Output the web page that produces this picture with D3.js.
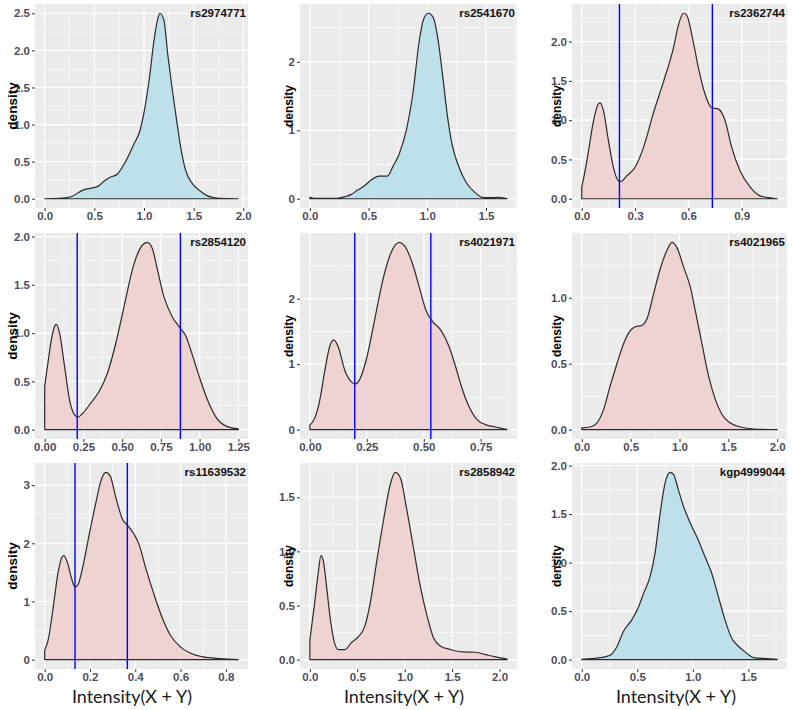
<!DOCTYPE html>
<html>
<head>
<meta charset="utf-8">
<script src="https://cdn.jsdelivr.net/npm/d3@7"></script>
<style>
	body { margin: 0; background: #fff; }
	svg { display: block; }
</style>
</head>
<body>
<svg id="chart" width="792" height="710"></svg>
<script>
// SNP panels, left to right, top to bottom
var snpNames = ["rs2974771", "rs2541670", "rs2362744",
	"rs2854120", "rs4021971", "rs4021965",
	"rs11639532", "rs2858942", "kgp4999044"];

// "single" = one cluster (blue), "cluster" = split clusters (pink)
var snpGroup = ["single", "single", "cluster",
	"cluster", "cluster", "cluster",
	"cluster", "cluster", "single"];

// cluster cut-off lines
var cutoffs = [[], [], [0.212, 0.735],
	[0.21, 0.876], [0.197, 0.531], [],
	[0.134, 0.365], [], []];

var xTicks = [[0, 0.5, 1, 1.5, 2], [0, 0.5, 1, 1.5], [0, 0.3, 0.6, 0.9],
	[0, 0.25, 0.5, 0.75, 1, 1.25], [0, 0.25, 0.5, 0.75], [0, 0.5, 1, 1.5, 2],
	[0, 0.2, 0.4, 0.6, 0.8], [0, 0.5, 1, 1.5, 2], [0, 0.5, 1, 1.5]];
var yTicks = [[0, 0.5, 1, 1.5, 2, 2.5], [0, 1, 2], [0, 0.5, 1, 1.5, 2],
	[0, 0.5, 1, 1.5, 2], [0, 1, 2], [0, 0.5, 1],
	[0, 1, 2, 3], [0, 0.5, 1, 1.5], [0, 0.5, 1, 1.5, 2]];
var xFormat = [".1f", ".1f", ".1f", ".2f", ".2f", ".1f", ".1f", ".1f", ".1f"];
var yFormat = [".1f", "d", ".1f", ".1f", "d", ".1f", "d", ".1f", ".1f"];

// density curves: intensity, density
var rs2974771X = [0, 0.15, 0.27, 0.39, 0.46, 0.54, 0.61, 0.66, 0.73, 0.81, 0.90, 0.96, 1.0, 1.05, 1.10, 1.14, 1.16, 1.20, 1.24, 1.28, 1.32, 1.37, 1.42, 1.49, 1.56, 1.63, 1.69, 1.76, 1.95];
var rs2974771Y = [0, 0.005, 0.03, 0.12, 0.14, 0.17, 0.25, 0.29, 0.33, 0.49, 0.74, 0.92, 1.16, 1.58, 2.12, 2.43, 2.5, 2.41, 1.94, 1.52, 1.14, 0.69, 0.38, 0.2, 0.11, 0.045, 0.02, 0.005, 0];

var rs2541670X = [0, 0.04, 0.23, 0.30, 0.35, 0.41, 0.45, 0.52, 0.59, 0.66, 0.71, 0.76, 0.82, 0.88, 0.93, 0.97, 1.01, 1.05, 1.09, 1.13, 1.17, 1.21, 1.27, 1.33, 1.40, 1.47, 1.53, 1.60, 1.68];
var rs2541670Y = [0.02, 0.005, 0.005, 0.03, 0.06, 0.13, 0.17, 0.27, 0.33, 0.33, 0.48, 0.65, 0.99, 1.57, 2.29, 2.63, 2.71, 2.65, 2.34, 1.81, 1.23, 0.80, 0.46, 0.24, 0.10, 0.02, 0.015, 0.02, 0];

var rs2362744X = [0, 0.019, 0.038, 0.066, 0.094, 0.103, 0.122, 0.15, 0.178, 0.206, 0.22, 0.253, 0.30, 0.347, 0.403, 0.46, 0.516, 0.544, 0.572, 0.59, 0.62, 0.657, 0.694, 0.73, 0.77, 0.807, 0.844, 0.89, 0.947, 1.0, 1.06, 1.1];
var rs2362744Y = [0.15, 0.36, 0.61, 0.99, 1.21, 1.22, 1.12, 0.74, 0.40, 0.23, 0.22, 0.29, 0.40, 0.65, 1.09, 1.49, 1.92, 2.21, 2.36, 2.34, 2.08, 1.66, 1.33, 1.16, 1.14, 0.99, 0.65, 0.36, 0.15, 0.04, 0.01, 0];

var rs2854120X = [0, 0.021, 0.043, 0.064, 0.075, 0.096, 0.128, 0.16, 0.192, 0.214, 0.246, 0.30, 0.353, 0.406, 0.46, 0.513, 0.577, 0.63, 0.662, 0.694, 0.726, 0.769, 0.823, 0.876, 0.908, 0.95, 1.004, 1.058, 1.11, 1.175, 1.25];
var rs2854120Y = [0.45, 0.69, 0.93, 1.07, 1.09, 1.0, 0.66, 0.31, 0.155, 0.13, 0.17, 0.28, 0.40, 0.59, 0.90, 1.28, 1.72, 1.91, 1.94, 1.88, 1.67, 1.38, 1.17, 1.05, 0.98, 0.79, 0.52, 0.28, 0.12, 0.034, 0.007];

var rs4021971X = [0, 0.022, 0.044, 0.066, 0.087, 0.105, 0.124, 0.153, 0.182, 0.20, 0.218, 0.247, 0.284, 0.32, 0.357, 0.393, 0.415, 0.451, 0.48, 0.51, 0.539, 0.575, 0.611, 0.64, 0.67, 0.699, 0.735, 0.771, 0.815, 0.866];
var rs4021971Y = [0.07, 0.18, 0.46, 0.91, 1.27, 1.37, 1.27, 0.91, 0.73, 0.70, 0.76, 1.06, 1.67, 2.28, 2.71, 2.86, 2.81, 2.53, 2.18, 1.82, 1.65, 1.52, 1.27, 0.96, 0.61, 0.35, 0.15, 0.076, 0.04, 0];

var rs4021965X = [0, 0.085, 0.154, 0.222, 0.29, 0.36, 0.427, 0.496, 0.547, 0.615, 0.667, 0.735, 0.803, 0.872, 0.923, 0.974, 1.043, 1.111, 1.162, 1.23, 1.3, 1.368, 1.436, 1.52, 1.624, 1.76, 2.0];
var rs4021965Y = [0.013, 0.02, 0.05, 0.15, 0.33, 0.50, 0.65, 0.75, 0.78, 0.79, 0.84, 1.03, 1.22, 1.36, 1.42, 1.38, 1.23, 1.08, 0.90, 0.65, 0.40, 0.226, 0.113, 0.05, 0.02, 0.005, 0];

var rs11639532X = [0, 0.015, 0.036, 0.058, 0.076, 0.085, 0.102, 0.117, 0.134, 0.146, 0.168, 0.197, 0.226, 0.248, 0.27, 0.289, 0.314, 0.343, 0.368, 0.394, 0.416, 0.445, 0.482, 0.518, 0.555, 0.599, 0.642, 0.70, 0.774, 0.855];
var rs11639532Y = [0.16, 0.33, 0.85, 1.47, 1.76, 1.79, 1.65, 1.42, 1.25, 1.28, 1.59, 2.16, 2.70, 3.07, 3.22, 3.16, 2.79, 2.42, 2.30, 2.16, 1.99, 1.59, 1.13, 0.73, 0.42, 0.22, 0.114, 0.046, 0.017, 0];

var rs2858942X = [0, 0.05, 0.088, 0.117, 0.14, 0.177, 0.212, 0.258, 0.30, 0.37, 0.44, 0.51, 0.576, 0.636, 0.707, 0.777, 0.848, 0.90, 0.954, 1.025, 1.095, 1.166, 1.237, 1.307, 1.378, 1.484, 1.608, 1.749, 1.855, 1.96, 2.08];
var rs2858942Y = [0.18, 0.52, 0.80, 0.96, 0.92, 0.67, 0.40, 0.16, 0.093, 0.093, 0.16, 0.21, 0.30, 0.52, 0.92, 1.29, 1.62, 1.73, 1.68, 1.37, 1.02, 0.67, 0.40, 0.195, 0.124, 0.093, 0.071, 0.068, 0.046, 0.025, 0.006];

var kgp4999044X = [0, 0.165, 0.255, 0.315, 0.375, 0.45, 0.51, 0.556, 0.616, 0.66, 0.706, 0.75, 0.796, 0.826, 0.87, 0.916, 0.976, 1.05, 1.11, 1.17, 1.23, 1.29, 1.35, 1.41, 1.47, 1.55, 1.667, 1.76];
var kgp4999044Y = [0.003, 0.02, 0.045, 0.13, 0.29, 0.41, 0.54, 0.68, 0.86, 1.10, 1.51, 1.82, 1.93, 1.91, 1.75, 1.58, 1.41, 1.23, 1.06, 0.89, 0.65, 0.41, 0.22, 0.138, 0.08, 0.02, 0.01, 0.003];

var densityX = [rs2974771X, rs2541670X, rs2362744X, rs2854120X, rs4021971X, rs4021965X, rs11639532X, rs2858942X, kgp4999044X];
var densityY = [rs2974771Y, rs2541670Y, rs2362744Y, rs2854120Y, rs4021971Y, rs4021965Y, rs11639532Y, rs2858942Y, kgp4999044Y];

// Layout of the 3x3 grid (panel backgrounds)
var colLeft = [35, 300, 572],
	colRight = [248, 517, 787],
	rowTop = [4, 233, 463],
	rowBottom = [208, 439, 669],
	yLabelX = [12, 289, 557],
	yLabelSize = [13.5, 12, 12],
	xTitleX = [132, 404, 676];

var groupFill = { single: "#bde0ea", cluster: "#efd3d3" };

var svg = d3.select("#chart");

function minorBreaks(ticks, domain){
	var step = ticks[1] - ticks[0],
		out = [ticks[0] - step / 2];
	ticks.forEach(function(t){ out.push(t + step / 2); });
	return out.filter(function(v){ return v >= domain[0] && v <= domain[1]; });
}

snpNames.forEach(function(name, i){
	var col = i % 3,
		row = Math.floor(i / 3),
		xs = densityX[i],
		ys = densityY[i],
		pts = xs.map(function(v, k){ return [v, ys[k]]; }),
		xMin = xs[0],
		xMax = xs[xs.length - 1],
		xRange = xMax - xMin,
		yMax = d3.max(ys);

	var x = d3.scaleLinear()
		.domain([xMin - 0.05 * xRange, xMax + 0.05 * xRange])
		.range([colLeft[col], colRight[col]]);
	var y = d3.scaleLinear()
		.domain([-0.05 * yMax, yMax * 1.05])
		.range([rowBottom[row], rowTop[row]]);

	var g = svg.append("g").attr("id", "panel-" + name);

	g.append("rect")
		.attr("x", colLeft[col])
		.attr("y", rowTop[row])
		.attr("width", colRight[col] - colLeft[col])
		.attr("height", rowBottom[row] - rowTop[row])
		.attr("fill", "#ebebeb");

	// minor grid
	g.selectAll("line.minor-x")
		.data(minorBreaks(xTicks[i], x.domain()))
		.enter().append("line")
		.attr("x1", x).attr("x2", x)
		.attr("y1", rowTop[row]).attr("y2", rowBottom[row])
		.attr("stroke", "#fff").attr("stroke-width", 0.6);
	g.selectAll("line.minor-y")
		.data(minorBreaks(yTicks[i], y.domain()))
		.enter().append("line")
		.attr("y1", y).attr("y2", y)
		.attr("x1", colLeft[col]).attr("x2", colRight[col])
		.attr("stroke", "#fff").attr("stroke-width", 0.6);

	// major grid
	g.selectAll("line.major-x")
		.data(xTicks[i])
		.enter().append("line")
		.attr("x1", x).attr("x2", x)
		.attr("y1", rowTop[row]).attr("y2", rowBottom[row])
		.attr("stroke", "#fff").attr("stroke-width", 1.2);
	g.selectAll("line.major-y")
		.data(yTicks[i])
		.enter().append("line")
		.attr("y1", y).attr("y2", y)
		.attr("x1", colLeft[col]).attr("x2", colRight[col])
		.attr("stroke", "#fff").attr("stroke-width", 1.2);

	// density
	var area = d3.area()
		.x(function(d){ return x(d[0]); })
		.y0(y(0))
		.y1(function(d){ return y(d[1]); })
		.curve(d3.curveMonotoneX);

	g.append("path")
		.datum(pts)
		.attr("d", area)
		.attr("fill", groupFill[snpGroup[i]])
		.attr("stroke", "#2b2b2b")
		.attr("stroke-width", 1.2)
		.attr("stroke-linejoin", "round");

	// cut-offs
	g.selectAll("line.cut")
		.data(cutoffs[i])
		.enter().append("line")
		.attr("x1", x).attr("x2", x)
		.attr("y1", rowTop[row]).attr("y2", rowBottom[row])
		.attr("stroke", "#0000ff").attr("stroke-width", 1.4);

	// axes
	var xAxis = g.append("g")
		.attr("transform", "translate(0," + rowBottom[row] + ")")
		.call(d3.axisBottom(x).tickValues(xTicks[i]).tickFormat(d3.format(xFormat[i])).tickSize(3).tickPadding(1));
	var yAxis = g.append("g")
		.attr("transform", "translate(" + colLeft[col] + ",0)")
		.call(d3.axisLeft(y).tickValues(yTicks[i]).tickFormat(d3.format(yFormat[i])).tickSize(3).tickPadding(2));

	[xAxis, yAxis].forEach(function(a){
		a.select(".domain").remove();
		a.selectAll(".tick line").attr("stroke", "#333");
		a.selectAll(".tick text")
			.attr("fill", "#4d4d58")
			.style("font-family", "'Liberation Sans', Arial, sans-serif")
			.style("font-size", "11.5px")
			.style("font-weight", "bold");
	});

	// title
	g.append("text")
		.attr("x", colRight[col] - 2)
		.attr("y", rowTop[row] + 13)
		.attr("text-anchor", "end")
		.style("font-family", "'Liberation Sans', Arial, sans-serif")
		.style("font-size", "11.5px")
		.style("font-weight", "bold")
		.attr("fill", "#111")
		.text(name);

	// y label
	g.append("text")
		.attr("transform", "translate(" + yLabelX[col] + "," + ((rowTop[row] + rowBottom[row]) / 2) + ") rotate(-90)")
		.attr("text-anchor", "middle")
		.attr("dy", "0.35em")
		.style("font-family", "'Liberation Sans', Arial, sans-serif")
		.style("font-size", yLabelSize[col] + "px")
		.style("font-weight", "bold")
		.attr("fill", "#000")
		.text("density");

	if (row === 2){
		g.append("text")
			.attr("x", xTitleX[col])
			.attr("y", 703)
			.attr("text-anchor", "middle")
			.style("font-family", "Lato, 'Open Sans', sans-serif")
			.style("font-size", "18px")
			.attr("fill", "#1a1a1a")
			.text("Intensity(X + Y)");
	}
});
</script>
</body>
</html>
